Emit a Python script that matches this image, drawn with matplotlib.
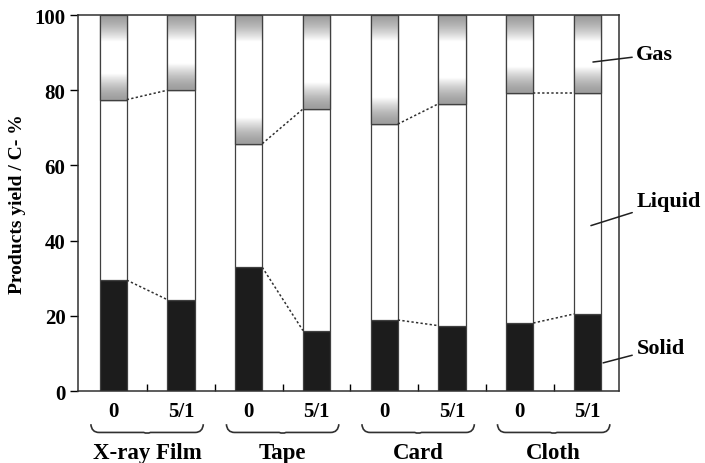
import numpy as np
import matplotlib
matplotlib.use("Agg")
import matplotlib.pyplot as plt
from matplotlib.path import Path
from matplotlib.patches import PathPatch
import matplotlib.transforms as mtransforms

plt.rcParams['font.family'] = ['Liberation Serif', 'DejaVu Serif']
plt.rcParams['font.weight'] = 'bold'

# data
groups = ["X-ray Film", "Tape", "Card", "Cloth"]
conditions = ["0", "5/1", "0", "5/1", "0", "5/1", "0", "5/1"]
solid = [29.5, 24.3, 32.9, 16.1, 18.9, 17.4, 18.1, 20.5]
liquid_top = [77.5, 80.0, 65.8, 75.0, 71.0, 76.4, 79.3, 79.3]
liquid = [t - s for t, s in zip(liquid_top, solid)]
gas = [100 - t for t in liquid_top]

# phase labels: (text, label y, pointer x, pointer y)
phase_labels = [("Gas", 89.5, 7.08, 87.5), ("Liquid", 50.5, 7.05, 44.0), ("Solid", 11.5, 7.23, 7.5)]

x = np.arange(len(conditions))
width = 0.4

fig = plt.figure(figsize=(7.05, 4.64), dpi=100)
ax = fig.add_axes([0.1106, 0.155, 0.767, 0.8105])

edge = '#404040'
ax.bar(x, solid, width, color='#1c1c1c', edgecolor=edge, linewidth=0.9, zorder=2)
ax.bar(x, liquid, width, bottom=solid, color='white', edgecolor=edge, linewidth=0.9, zorder=2)
gas_bars = ax.bar(x, gas, width, bottom=liquid_top, color='white', edgecolor=edge,
                  linewidth=0.9, zorder=2)

# shaded gas segments: grey near the top and bottom edges, fading to white
for rect in gas_bars:
    x0 = rect.get_x()
    y0 = rect.get_y()
    h = rect.get_height()
    yy = np.linspace(y0, y0 + h, 200)
    band = 7.0
    d = np.minimum(yy - y0, y0 + h - yy)
    shade = 0.62 + 0.38 * np.clip(d / band, 0, 1) ** 1.5
    img = np.repeat(shade[:, None], 2, axis=1)
    ax.imshow(img, cmap='gray', vmin=0, vmax=1, origin='lower', aspect='auto',
              extent=(x0, x0 + rect.get_width(), y0, y0 + h), zorder=2.5,
              interpolation='bilinear')
    ax.add_patch(plt.Rectangle((x0, y0), rect.get_width(), h, fill=False,
                               edgecolor=edge, linewidth=0.9, zorder=3))

# dotted connectors within each pair
for g in range(len(groups)):
    i, j = 2 * g, 2 * g + 1
    for vals in (solid, liquid_top):
        ax.plot([x[i] + width / 2, x[j] - width / 2], [vals[i], vals[j]],
                linestyle=(0, (1.5, 1.5)), color='#303030', linewidth=1.1, zorder=3)

ax.set_xlim(-0.52, 7.46)
ax.set_ylim(0, 100)
ax.set_yticks([0, 20, 40, 60, 80, 100])
ax.tick_params(axis='y', direction='out', length=6, width=1, labelsize=15, pad=3)
ax.set_xticks(x)
ax.set_xticklabels(conditions, fontsize=15, fontweight='bold')
ax.tick_params(axis='x', length=0, pad=7)
ax.set_xticks(x[:-1] + 0.5, minor=True)
ax.tick_params(axis='x', which='minor', direction='in', length=5, width=1)
for sp in ax.spines.values():
    sp.set_linewidth(1.1)
    sp.set_color('#303030')
ax.set_ylabel("Products yield / C- %", fontsize=14, fontweight='bold', labelpad=6)

# braces and group names below the axis
trans = mtransforms.blended_transform_factory(ax.transData, ax.transAxes)
for g, name in enumerate(groups):
    left = x[2 * g] - 0.33
    right = x[2 * g + 1] + 0.33
    mid = (left + right) / 2
    yt, yb = -0.088, -0.11
    verts = [(left, yt), (left + 0.01, yb), (left + 0.12, yb),
             (mid - 0.05, yb), (mid, yb - 0.004), (mid + 0.05, yb),
             (right - 0.12, yb), (right - 0.01, yb), (right, yt)]
    codes = [Path.MOVETO, Path.CURVE3, Path.CURVE3,
             Path.LINETO, Path.CURVE3, Path.CURVE3,
             Path.LINETO, Path.CURVE3, Path.CURVE3]
    ax.add_patch(PathPatch(Path(verts, codes), transform=trans, fill=False,
                           edgecolor='#303030', linewidth=1.2, clip_on=False))
    ax.text(mid, -0.162, name, transform=trans, ha='center', va='center',
            fontsize=16.5, fontweight='bold')

# phase labels on the right
for text, ty, px, py in phase_labels:
    ax.annotate(text, xy=(px, py), xycoords='data',
                xytext=(7.72, ty), textcoords='data', fontsize=16, fontweight='bold',
                ha='left', va='center', annotation_clip=False,
                arrowprops=dict(arrowstyle='-', color='#202020', lw=1.1,
                                shrinkA=1, shrinkB=0))

fig.savefig("out.png", dpi=100)
